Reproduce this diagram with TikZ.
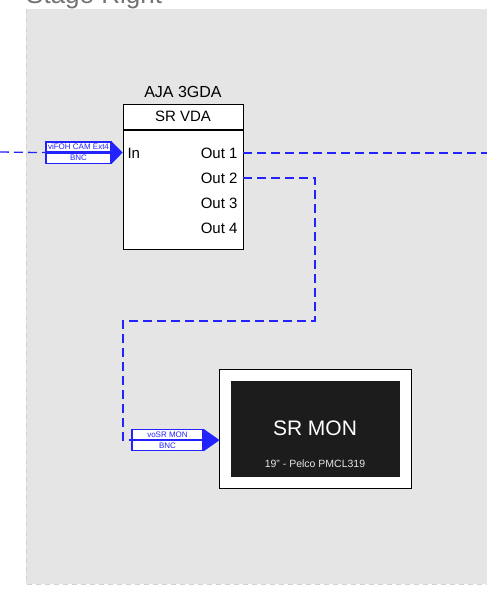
\documentclass[tikz,border=0pt]{standalone}
\usepackage{fontspec}
\setmainfont{Liberation Sans}
\usetikzlibrary{positioning,calc}
\definecolor{wire}{RGB}{35,35,255}
\definecolor{screen}{RGB}{28,28,28}
\tikzset{
  fs/.style={font=\fontsize{#1}{#1}\selectfont},
  lblrow/.style={draw=wire, fill=white, line width=1.2pt, text=wire, fs=8,
    minimum height=10pt, inner sep=0pt},
  link/.style={draw=wire, line width=1.3pt, dash pattern=on 9pt off 5pt}
}
\begin{document}
\begin{tikzpicture}[x=1pt,y=-1pt]
\useasboundingbox (0,0) rectangle (487,589);
\fill[gray!20] (26,9) rectangle (487,584);
\draw[gray!35, line width=1pt, dash pattern=on 5pt off 4pt] (26,9) -- (26,584) -- (487,584);
\node[anchor=base west, inner sep=0pt, text=black!55, fs=26] (area) at (26,3) {Stage Right};
\node[fs=16] (vdamodel) at (183,92) {AJA 3GDA};
\node[draw, fill=white, line width=1pt, minimum width=120pt, minimum height=25pt, fs=15] (vdahead) at (183,116.5) {SR VDA};
\node[draw, fill=white, line width=1pt, minimum width=120pt, minimum height=119pt, below=0pt of vdahead] (vda) {};
\node[anchor=west, fs=15] (in) at (124,153) {In};
\foreach \i/\y in {1/153,2/178,3/203,4/228}
  \node[anchor=east, fs=15] (o\i) at (241,\y) {Out \i};
\coordinate (out1) at (243,153);
\coordinate (out2) at (243,178);
\coordinate (leftend) at (0,152);
\coordinate (rightend) at (487,153);
\coordinate (bend) at (315,321);
\coordinate (bend2) at (123,321);
\node[lblrow, minimum width=65pt] (inlbltop) at (78.5,147) {viFOH CAM Ext4};
\node[lblrow, minimum width=65pt, below=0pt of inlbltop] (inlblbot) {BNC};
\fill[wire] (inlbltop.north east) -- ($(inlbltop.south east)+(11,0)$) -- (inlblbot.south east) -- cycle;
\node[lblrow, minimum width=71pt] (monlbltop) at (167.5,434.5) {voSR MON};
\node[lblrow, minimum width=71pt, below=0pt of monlbltop] (monlblbot) {BNC};
\fill[wire] (monlbltop.north east) -- ($(monlbltop.south east)+(16,0)$) -- (monlblbot.south east) -- cycle;
\draw[link] (leftend) -- (inlbltop.south west);
\draw[link] (out1) -- (rightend);
\draw[link] (out2) -| (bend) -- (bend2) |- (monlbltop.south west);
\fill[black!30] (221,371) rectangle (412,489);
\node[draw, fill=white, line width=1pt, minimum width=192pt, minimum height=119pt] (mon) at (315,428.5) {};
\node[fill=screen, minimum width=169pt, minimum height=96pt] (screen) at (mon) {};
\node[text=white, fs=21] (monname) at (315,428) {SR MON};
\node[text=white!90!black, fs=10.5] (monmodel) at (315,464) {19" - Pelco PMCL319};
\end{tikzpicture}
\end{document}
